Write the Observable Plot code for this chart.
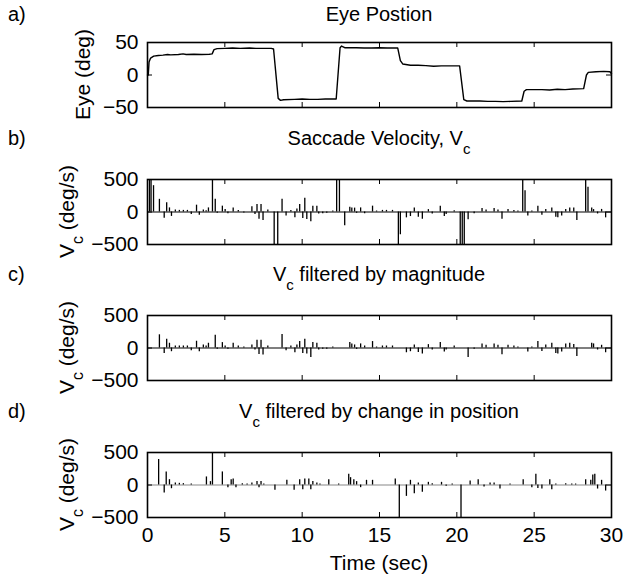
<!DOCTYPE html>
<html><head><meta charset="utf-8">
<script src="https://cdn.jsdelivr.net/npm/d3@7"></script>
<script src="https://cdn.jsdelivr.net/npm/@observablehq/plot@0.6"></script>
<style>
body{margin:0;background:#fff;}
#chart{position:relative;width:623px;height:575px;background:#fff;}
#chart svg{position:absolute;left:0;display:block;}
</style></head><body><div id="chart"></div>
<script>
// ---- data ----
const eyePosition = [
  [0,0],[0.05,0],[0.1,20],[0.2,26],[0.4,29],[0.7,30],[1.0,30.5],[1.3,31.5],[1.5,31],[2.0,31.5],[2.3,32.5],[2.5,31.5],[3.0,32],[3.5,31.5],[4.0,32],[4.18,32.5],
  [4.3,39],[4.5,40.5],[5.0,41],[5.5,41.5],[6.0,41],[6.6,41.5],[7.0,41],[8.0,41],[8.15,40],[8.45,-36],[8.6,-39],[8.8,-38],[9.5,-37.5],[10.0,-37],[10.5,-37.5],[11.0,-37.5],[11.5,-37],[12.2,-37],
  [12.45,42],[12.55,44.5],[12.75,42],[13.5,42],[14.0,41.5],[14.5,41.5],[15.0,42],[15.5,41.5],[16.18,41.5],[16.35,22],[16.5,17],[17,15],[17.5,15],[18,14.5],[18.5,13.5],[19,14],[20.18,14],
  [20.45,-38],[20.65,-40],[21.5,-40],[22.0,-40.5],[22.5,-40.5],[23.0,-41],[23.5,-40.5],[24.2,-40],[24.35,-25],[24.5,-22.5],[25.5,-22.5],[26.0,-23],[26.5,-22],[27.0,-22.5],[27.5,-21.5],[28.2,-21],
  [28.38,0],[28.5,4],[29,5],[29.5,5.5],[29.9,5],[30,2]
];
const saccadeVelocity = [
  [0.13,500],[0.23,500],[0.39,405],[0.77,195],[1.08,-95],[1.24,142],[1.42,63],[1.55,-68],[1.80,32],[2.06,25],[2.32,25],[2.58,25],[2.83,-40],
  [3.17,105],[3.35,-50],[3.61,30],[3.79,20],[3.94,63],[4.20,500],[4.38,195],[4.51,-20],[4.84,90],[5.02,37],[5.20,-25],[5.54,63],[5.87,25],
  [6.23,-15],[6.75,80],[6.95,-40],[7.08,116],[7.21,-110],[7.34,116],[7.47,-130],[7.78,32],[8.19,-500],[8.42,-500],[8.70,195],[8.96,-60],
  [9.27,25],[9.53,-90],[9.66,45],[9.84,116],[10.04,-100],[10.17,210],[10.30,-115],[10.56,-150],[10.69,90],[10.95,90],[11.07,-30],[11.33,-25],
  [11.59,-20],[11.98,15],[12.23,500],[12.41,500],[12.75,-210],[13.08,74],[13.21,63],[13.39,60],[13.52,-20],[13.78,63],[14.04,-25],[14.55,90],
  [14.81,15],[15.19,25],[15.45,25],[15.84,25],[16.22,-500],[16.35,-350],[16.74,-90],[17.00,-70],[17.25,63],[17.51,-80],[17.77,-110],[18.16,37],
  [18.41,-30],[18.93,90],[19.19,-70],[19.31,-40],[19.83,20],[20.22,-500],[20.35,-500],[20.48,-500],[20.73,-120],[21.12,-25],[21.63,52],[21.89,30],
  [22.41,52],[22.66,30],[22.92,-110],[23.31,37],[23.69,25],[23.95,15],[24.26,500],[24.41,326],[24.59,-60],[24.85,15],[25.24,90],[25.50,-50],
  [25.75,40],[26.14,63],[26.40,-80],[26.53,-90],[26.78,-60],[27.04,40],[27.30,63],[27.56,63],[27.76,-130],[28.33,500],[28.48,380],[28.72,63],
  [28.84,37],[29.10,-30],[29.36,40],[29.62,-90]
];
const filteredByMagnitude = [
  [0.77,203],[1.08,-83],[1.24,135],[1.42,73],[1.55,-57],[1.80,31],[2.06,31],[2.32,31],[2.58,31],[2.83,-42],[3.17,104],[3.35,-57],[3.61,47],
  [3.79,31],[3.94,73],[4.38,198],[4.51,-21],[4.84,83],[5.02,31],[5.20,-21],[5.54,73],[5.87,31],[6.23,15],[6.75,47],[6.95,-31],[7.08,120],
  [7.21,-99],[7.34,120],[7.47,-109],[7.78,31],[8.70,208],[8.96,-42],[9.27,31],[9.53,-73],[9.66,47],[9.84,99],[10.04,-83],[10.17,135],[10.30,-94],
  [10.56,-146],[10.69,83],[10.95,73],[11.07,-31],[11.33,-21],[11.59,-21],[11.98,15],[13.08,83],[13.21,63],[13.39,47],[13.52,-21],[13.78,63],
  [14.04,31],[14.55,99],[14.81,15],[15.19,31],[15.45,31],[15.84,31],[16.74,-73],[17.00,-57],[17.25,47],[17.51,-68],[17.77,-94],[18.16,52],
  [18.41,-31],[18.93,83],[19.19,-63],[19.31,-31],[19.83,31],[20.73,-146],[21.12,-21],[21.63,63],[21.89,42],[22.41,63],[22.66,42],[22.92,-104],
  [23.31,42],[23.69,31],[23.95,15],[24.59,-63],[24.85,15],[25.24,99],[25.50,-52],[25.75,47],[26.14,73],[26.40,-83],[26.53,-94],[26.78,-63],
  [27.04,63],[27.30,73],[27.56,52],[27.76,-130],[28.72,73],[28.84,63],[29.10,-31],[29.36,42],[29.62,-73]
];
const filteredByPosition = [
  [0.72,392],[1.08,-124],[1.21,201],[1.42,82],[1.55,-57],[1.80,31],[2.06,26],[2.32,21],[2.83,15],[3.81,124],[4.07,52],[4.20,500],[4.84,201],
  [5.20,-41],[5.41,82],[5.54,93],[5.72,-41],[6.13,21],[6.44,15],[6.75,31],[7.08,52],[7.21,-41],[7.34,52],[7.52,15],[8.24,-82],[9.01,72],
  [9.48,-82],[9.84,82],[10.04,-72],[10.17,93],[10.43,93],[10.56,-72],[10.69,52],[10.95,31],[11.15,15],[11.72,82],[12.36,15],[13.01,165],
  [13.13,113],[13.34,82],[13.52,52],[13.78,-41],[14.16,72],[14.55,72],[16.02,93],[16.28,-500],[16.74,-175],[17.00,72],[17.25,-134],[17.51,31],
  [17.77,-113],[18.16,41],[18.41,21],[19.01,41],[19.31,-21],[19.70,15],[20.27,-500],[20.86,62],[21.38,82],[21.76,-31],[22.15,31],[22.41,31],
  [22.79,-62],[23.44,15],[24.29,82],[24.85,-41],[25.11,165],[25.24,-52],[25.50,-62],[26.01,82],[26.14,-72],[26.40,15],[27.04,21],[27.43,15],
  [27.68,15],[28.33,82],[28.66,72],[28.79,155],[28.92,165],[29.10,-62],[29.36,72],[29.62,-93]
];
const timeTicks = [0, 5, 10, 15, 20, 25, 30];
const eyeTicks = [-50, 0, 50];
const velocityTicks = [-500, 0, 500];

// ---- layout ----
const FONT = "'Liberation Sans', Arial, Helvetica, sans-serif";
const W = 623, ML = 147, MR = 12;
const chart = document.getElementById("chart");

function addText(svg, {x, y, parts, anchor = "middle", rotate = false, size = 20}) {
  const t = d3.select(svg).append("text")
    .attr("font-family", FONT).attr("font-size", size).attr("fill", "black")
    .attr("text-anchor", anchor)
    .attr("transform", rotate ? `translate(${x},${y}) rotate(-90)` : `translate(${x},${y})`);
  let shift = 0;
  for (const p of parts) {
    const s = t.append("tspan").text(p.text);
    if (p.sub) { s.attr("dy", 9).attr("font-size", size * 0.75); shift = 9; }
    else if (shift) { s.attr("dy", -shift); shift = 0; }
  }
}

function panel(cfg) {
  const {top, height, marginTop, marginBottom, yDomain, yTicks, marks, xAxis} = cfg;
  const fh = height - marginTop - marginBottom;
  const fw = W - ML - MR;
  const svg = Plot.plot({
    width: W, height, marginLeft: ML, marginRight: MR, marginTop, marginBottom,
    style: {fontFamily: FONT, fontSize: "21px", background: "white", color: "black", overflow: "visible"},
    x: {domain: [0, 30], axis: xAxis ? undefined : null},
    y: {domain: yDomain},
    marks: [
      ...marks,
      Plot.ruleX(timeTicks.slice(1, -1), {insetBottom: fh - 5, stroke: "black", strokeWidth: 1}),
      Plot.ruleX(timeTicks.slice(1, -1), {insetTop: fh - 5, stroke: "black", strokeWidth: 1}),
      Plot.ruleY([0], {insetRight: fw - 5, stroke: "black", strokeWidth: 1}),
      Plot.ruleY([0], {insetLeft: fw - 5, stroke: "black", strokeWidth: 1}),
      Plot.frame({stroke: "black", strokeWidth: 1.6}),
      Plot.axisY({ticks: yTicks, tickSize: 0, tickPadding: 9, fontSize: 21, label: null}),
      xAxis ? Plot.axisX({ticks: timeTicks, tickSize: 0, tickPadding: 10, fontSize: 21, label: null}) : null
    ]
  });
  svg.style.top = top + "px";
  chart.appendChild(svg);
  const cy = marginTop + fh / 2;
  addText(svg, {x: 8, y: cfg.labelY - top, parts: [{text: cfg.letter}], anchor: "start"});
  addText(svg, {x: ML + fw / 2, y: cfg.labelY - top, parts: cfg.title});
  addText(svg, {x: cfg.ylabelX, y: cy, parts: cfg.ylabel, rotate: true, size: 21});
  if (xAxis) addText(svg, {x: ML + fw / 2, y: 570 - top, parts: [{text: "Time (sec)"}], size: 21});
  return svg;
}

const spikes = (data, zero = "black") => [
  Plot.ruleY([0], {stroke: zero, strokeWidth: 1.2}),
  Plot.ruleX(data, {x: d => d[0], y1: 0, y2: d => d[1], stroke: "black", strokeWidth: 1.3, clip: true})
];
const vLabel = [{text: "V"}, {text: "c", sub: true}, {text: " (deg/s)"}];

panel({top: 0, height: 136, marginTop: 42, marginBottom: 29, yDomain: [-50, 50], yTicks: eyeTicks,
  letter: "a)", labelY: 21, title: [{text: "Eye Postion"}], ylabel: [{text: "Eye (deg)"}], ylabelX: 90,
  marks: [Plot.line(eyePosition, {x: d => d[0], y: d => d[1], stroke: "black", strokeWidth: 1.4})]});

panel({top: 136, height: 136, marginTop: 43, marginBottom: 28, yDomain: [-500, 500], yTicks: velocityTicks,
  letter: "b)", labelY: 145, title: [{text: "Saccade Velocity, V"}, {text: "c", sub: true}], ylabel: vLabel, ylabelX: 74,
  marks: spikes(saccadeVelocity)});

panel({top: 272, height: 137, marginTop: 43, marginBottom: 29, yDomain: [-500, 500], yTicks: velocityTicks,
  letter: "c)", labelY: 281, title: [{text: "V"}, {text: "c", sub: true}, {text: " filtered by magnitude"}], ylabel: vLabel, ylabelX: 74,
  marks: spikes(filteredByMagnitude)});

panel({top: 409, height: 166, marginTop: 43, marginBottom: 58, yDomain: [-500, 500], yTicks: velocityTicks, xAxis: true,
  letter: "d)", labelY: 418, title: [{text: "V"}, {text: "c", sub: true}, {text: " filtered by change in position"}], ylabel: vLabel, ylabelX: 74,
  marks: spikes(filteredByPosition, "#888")});
</script></body></html>
